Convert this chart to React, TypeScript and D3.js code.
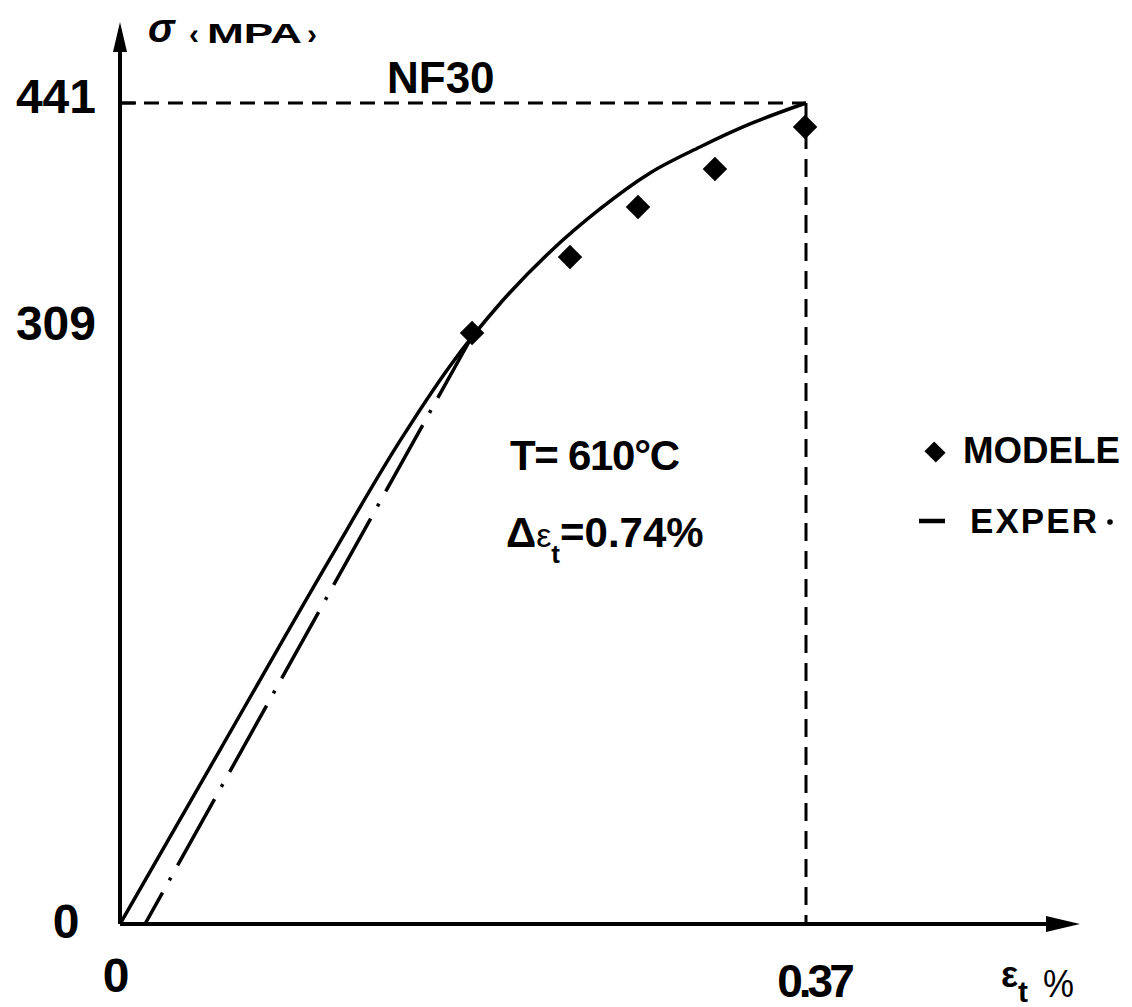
import React from "react";
import * as d3 from "d3";

// ---- data (strain %, stress MPa) ----
const yTickValues = [0, 309, 441];
const yTickLabels = ["0", "309", "441"];
const xTickValues = [0, 0.37];
const xTickLabels = ["0", "0.37"];

// solid curve
const solidStrain = [0, 0.0539, 0.1133, 0.151, 0.178, 0.205, 0.2319, 0.2589, 0.2859, 0.3128, 0.3398, 0.37];
const solidStress = [0, 90.5, 190.1, 251.3, 290.3, 324.4, 354.4, 379.4, 400.3, 415.4, 428.8, 441];

// dash-dot straight line
const dashDotStrain = [0.0135, 0.1888];
const dashDotStress = [0, 303.8];

// MODELE points
const modeleStrain = [0.1899, 0.2427, 0.2794, 0.3209, 0.3695];
const modeleStress = [307.4, 351.4, 380.5, 402.6, 427.0];

const peakStrain = 0.37;
const peakStress = 441;

const W = 1132;
const H = 1007;
const FONT = "'Liberation Sans', Arial, Helvetica, sans-serif";

export default function App() {
  const x = d3.scaleLinear().domain([0, 0.37]).range([120, 806]);
  const y = d3.scaleLinear().domain([0, 309, 441]).range([924, 330, 103]);

  const line = d3
    .line<[number, number]>()
    .x((d) => x(d[0]))
    .y((d) => y(d[1]))
    .curve(d3.curveMonotoneX);

  const solidData: [number, number][] = solidStrain.map((s, i) => [s, solidStress[i]]);
  const dashData: [number, number][] = dashDotStrain.map((s, i) => [s, dashDotStress[i]]);
  const diamond = d3.symbol().type(d3.symbolSquare).size(300)();
  const legendDiamond = d3.symbol().type(d3.symbolSquare).size(260)();

  const x0 = x(0);
  const y0 = y(0);

  return (
    <svg
      width={W}
      height={H}
      style={{ position: "absolute", left: 0, top: 0, background: "#fff" }}
      fontFamily={FONT}
    >
      <rect x={0} y={0} width={W} height={H} fill="#fff" />

      {/* reference dashed lines */}
      <line x1={x0} y1={y(peakStress)} x2={x(peakStrain)} y2={y(peakStress)} stroke="#000" strokeWidth={3} strokeDasharray="15 9" />
      <line x1={x(peakStrain)} y1={y(peakStress)} x2={x(peakStrain)} y2={y0} stroke="#000" strokeWidth={3} strokeDasharray="18 10" />

      {/* axes */}
      <line x1={x0} y1={y0} x2={x0} y2={40} stroke="#000" strokeWidth={4} />
      <path d={`M${x0 - 7},52 L${x0},22 L${x0 + 7},52 Z`} fill="#000" />
      <line x1={x0} y1={y0} x2={1060} y2={y0} stroke="#000" strokeWidth={4} />
      <path d={`M1046,${y0 - 8} L1080,${y0} L1046,${y0 + 8} Z`} fill="#000" />
      <line x1={x0} y1={y(peakStress)} x2={x0 + 16} y2={y(peakStress)} stroke="#000" strokeWidth={3} />

      {/* curves */}
      <path d={line(solidData) || ""} fill="none" stroke="#000" strokeWidth={3.5} strokeLinejoin="round" />
      <path
        d={line(dashData) || ""}
        fill="none"
        stroke="#000"
        strokeWidth={3.5}
        strokeDasharray="76 14 3 14"
        strokeDashoffset={40}
      />

      {/* model points */}
      {modeleStrain.map((s, i) => (
        <path
          key={i}
          d={diamond || ""}
          transform={`translate(${x(s)},${y(modeleStress[i])}) rotate(45)`}
          fill="#000"
        />
      ))}

      {/* y tick labels */}
      {yTickValues.map((v, i) => (
        <text
          key={"y" + i}
          x={v === 0 ? 66 : 96}
          y={y(v) + (v === 0 ? 14 : 10)}
          textAnchor={v === 0 ? "middle" : "end"}
          fontSize={48}
          fontWeight="bold"
        >
          {yTickLabels[i]}
        </text>
      ))}

      {/* x tick labels */}
      {xTickValues.map((v, i) => (
        <text
          key={"x" + i}
          x={x(v) + (v === 0 ? -4 : 8)}
          y={v === 0 ? 992 : 997}
          textAnchor="middle"
          fontSize={v === 0 ? 48 : 46}
          fontWeight="bold"
          letterSpacing={v === 0 ? 0 : -4}
        >
          {xTickLabels[i]}
        </text>
      ))}

      {/* axis titles */}
      <text x={148} y={42} fontSize={40} fontWeight="bold" fontStyle="italic">σ</text>
      <text x={189} y={44} fontSize={30} fontWeight="bold">‹</text>
      <text x={207} y={43} fontSize={28} fontWeight="bold" textLength={95} lengthAdjust="spacingAndGlyphs">MPA</text>
      <text x={307} y={44} fontSize={30} fontWeight="bold">›</text>

      <text x={1001} y={987} fontSize={36} fontWeight="bold">
        ε<tspan dy={15} fontSize={30}>t</tspan>
      </text>
      <text x={1043} y={997} fontSize={38} textLength={31} lengthAdjust="spacingAndGlyphs">%</text>

      {/* annotations */}
      <text x={387} y={93} fontSize={44} fontWeight="bold">NF30</text>
      <text x={510} y={470} fontSize={42} fontWeight="bold" textLength={170} lengthAdjust="spacing">T= 610°C</text>
      <text x={506} y={547} fontSize={42} fontWeight="bold">
        Δ<tspan fontSize={34} fontWeight="normal">ε</tspan>
        <tspan fontSize={26} dy={16}>t</tspan>
        <tspan dy={-16}>=0.74%</tspan>
      </text>

      {/* legend */}
      <path d={legendDiamond || ""} transform="translate(935,452) rotate(45) scale(1,0.85)" fill="#000" />
      <text x={963} y={463} fontSize={36} fontWeight="bold" textLength={157} lengthAdjust="spacingAndGlyphs">MODELE</text>
      <line x1={919} y1={521} x2={945} y2={521} stroke="#000" strokeWidth={4.5} />
      <text x={970} y={533} fontSize={35} fontWeight="bold" textLength={127} lengthAdjust="spacing">EXPER</text>
      <circle cx={1110} cy={522} r={2.8} fill="#000" />
    </svg>
  );
}
